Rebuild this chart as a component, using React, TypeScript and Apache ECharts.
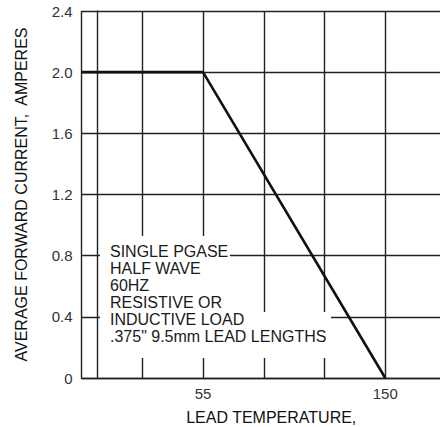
import React, { useEffect, useRef } from "react";
import * as echarts from "echarts";

// Lead temperature (x) and average forward current (y) of the derating curve
const tempPoints = [-8.333, 55, 150];
const currentPoints = [2.0, 2.0, 0];

// Axis settings
const xGridStep = 95 / 3;
const xMin = 55 - 2 * xGridStep;
const xMax = 180.1;
const xTickLabels = [55, 150];
const yMin = 0;
const yMax = 2.4;
const yStep = 0.4;

const noteLines = [
  "SINGLE PGASE",
  "HALF WAVE",
  "60HZ",
  "RESISTIVE OR",
  "INDUCTIVE LOAD",
  '.375" 9.5mm LEAD LENGTHS',
];

const FONT = "Liberation Sans, Arial, sans-serif";

export default function App() {
  const ref = useRef<HTMLDivElement>(null);
  useEffect(() => {
    if (!ref.current) return;
    const chart = echarts.init(ref.current, undefined, { renderer: "svg" });
    const gridColor = "#222";
    chart.setOption({
      animation: false,
      backgroundColor: "#ffffff",
      grid: {
        left: 81.5,
        top: 11,
        right: -3,
        bottom: 49,
        containLabel: false,
        outerBoundsMode: "none",
      },
      xAxis: {
        type: "value",
        min: xMin,
        max: xMax,
        interval: xGridStep,
        name: "LEAD TEMPERATURE,",
        nameLocation: "middle",
        nameGap: 31,
        nameTextStyle: {
          fontFamily: FONT,
          fontSize: 16,
          color: "#111",
          padding: [0, 0, 0, 18],
        },
        axisLine: { show: true, lineStyle: { color: gridColor, width: 1.4 } },
        axisTick: { show: false },
        axisLabel: {
          margin: 8,
          fontFamily: FONT,
          fontSize: 15,
          color: "#333",
          formatter: (v: number) => {
            const hit = xTickLabels.find((t) => Math.abs(t - v) < 0.01);
            return hit !== undefined ? String(hit) : "";
          },
        },
        splitLine: { show: true, lineStyle: { color: gridColor, width: 1.4 } },
      },
      yAxis: {
        type: "value",
        min: yMin,
        max: yMax,
        interval: yStep,
        name: "AVERAGE FORWARD CURRENT,  AMPERES",
        nameLocation: "middle",
        nameGap: 52,
        nameTextStyle: { fontFamily: FONT, fontSize: 16, color: "#111" },
        axisLine: { show: true, lineStyle: { color: gridColor, width: 1.4 } },
        axisTick: { show: false },
        axisLabel: {
          margin: 9,
          fontFamily: FONT,
          fontSize: 15,
          color: "#333",
          formatter: (v: number) => (Math.abs(v) < 1e-9 ? "0" : v.toFixed(1)),
        },
        splitLine: { show: true, lineStyle: { color: gridColor, width: 1.4 } },
      },
      series: [
        {
          type: "line",
          data: tempPoints.map((t, i) => [t, currentPoints[i]]),
          symbol: "none",
          clip: true,
          lineStyle: { color: "#111", width: 2.6 },
          z: 3,
        },
      ],
      graphic: [
        {
          type: "rect",
          z: 10,
          shape: { x: 100, y: 236, width: 130, height: 122 },
          style: { fill: "#ffffff" },
        },
        {
          type: "rect",
          z: 10,
          shape: { x: 100, y: 312, width: 231, height: 46 },
          style: { fill: "#ffffff" },
        },
        ...noteLines.map((line, i) => ({
          type: "text",
          z: 11,
          x: 110,
          y: 251.3 + i * 17.1,
          style: {
            text: line,
            fontFamily: FONT,
            fontSize: 16,
            fill: "#1a1a1a",
            verticalAlign: "middle",
            align: "left",
          },
        })),
      ],
    });
    return () => chart.dispose();
  }, []);
  return (
    <div
      ref={ref}
      style={{ position: "fixed", left: 0, top: 0, width: 440, height: 427 }}
    />
  );
}
